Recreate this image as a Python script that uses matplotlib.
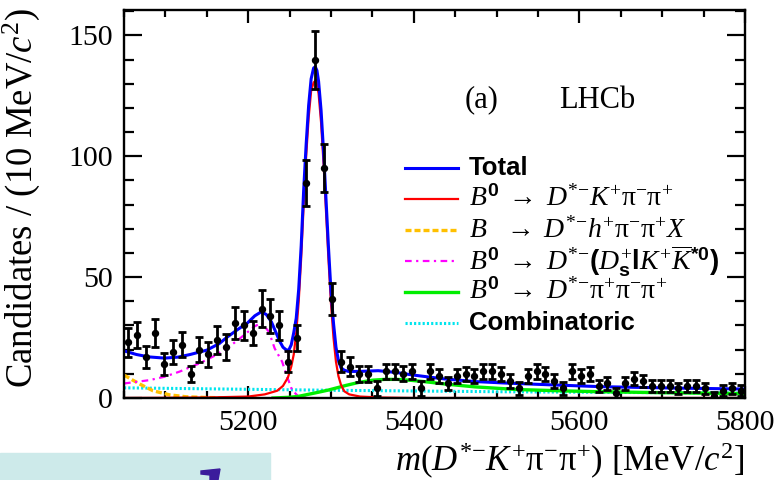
import matplotlib
matplotlib.use('Agg')

import numpy as np
import matplotlib.pyplot as plt
from matplotlib.patches import Rectangle, Polygon
from matplotlib.lines import Line2D
from matplotlib.ticker import MultipleLocator


# SETTINGS
plt.rcParams['mathtext.fontset'] = 'custom'
plt.rcParams['mathtext.rm'] = 'Liberation Serif'
plt.rcParams['mathtext.it'] = 'Liberation Serif:italic'
plt.rcParams['mathtext.bf'] = 'Liberation Sans:bold'
plt.rcParams['font.family'] = ['Liberation Serif', 'DejaVu Sans']

SERIF = 'Liberation Serif'
SANS = 'Liberation Sans'

# DATA
MASS_LO, MASS_HI, N_BINS = 5050, 5800, 70

COUNTS = [23, 26, 17, 27, 14, 19, 22, 10, 20, 18,
          24, 21, 31, 30, 27, 37, 34, 30, 15, 25,
          89, 140, 95, 41, 15, 13, 10, 10, 4, 11,
          11, 10, 11, 4, 11, 9, 6, 9, 10, 9,
          11, 11, 10, 7, 4, 9, 11, 10, 7, 4,
          11, 9, 10, 5, 6, 2, 6, 8, 7, 5,
          5, 5, 4, 5, 5, 4, 1, 3, 4, 3]

ERRORS = [6.0, 5.4, 4.7, 5.8, 4.6, 5.0, 5.1, 3.4, 5.2, 5.0,
          5.8, 5.4, 6.7, 5.9, 5.0, 7.8, 7.0, 6.0, 4.4, 5.4,
          9.6, 12.0, 9.9, 6.6, 4.3, 3.8, 3.4, 3.2, 3.0, 3.1,
          3.1, 3.1, 3.1, 3.0, 3.1, 2.9, 2.7, 2.9, 3.0, 2.9,
          3.1, 3.1, 3.0, 2.8, 2.6, 2.9, 3.1, 3.0, 2.8, 2.6,
          3.0, 2.9, 3.0, 2.5, 2.6, 2.2, 2.5, 2.7, 2.6, 2.4,
          2.4, 2.4, 2.3, 2.4, 2.4, 2.3, 1.5, 2.2, 2.3, 2.2]

# Total fit
TOTAL_M = [5050, 5065, 5080, 5099, 5115, 5130, 5150, 5165, 5175, 5188,
           5199, 5208, 5216, 5222, 5228, 5233, 5238, 5242, 5246, 5249,
           5252, 5255, 5258, 5261, 5264, 5267, 5270, 5273, 5276, 5279,
           5281, 5283, 5285, 5288, 5291, 5294, 5297, 5300, 5303, 5306,
           5309, 5312, 5316, 5321, 5335, 5357, 5380, 5397, 5420, 5437,
           5474, 5510, 5546, 5585, 5625, 5670, 5717, 5760, 5800]
TOTAL_Y = [19.5, 18.0, 17.0, 16.5, 16.9, 18.0, 19.8, 22.5, 25.3, 28.5,
           31.0, 34.0, 35.7, 34.5, 31.5, 27.5, 23.5, 21.0, 19.9, 19.8,
           22.0, 27.0, 33.0, 45.0, 63.0, 86.0, 105.0, 121.0, 132.0, 136.5,
           137.0, 135.5, 131.0, 119.0, 102.0, 82.0, 62.0, 44.0, 31.0, 21.0,
           15.5, 12.5, 11.5, 11.0, 11.0, 11.3, 10.5, 9.6, 8.6, 7.9,
           6.8, 6.2, 5.7, 5.2, 4.7, 4.4, 4.1, 3.9, 3.7]

# B0 -> D*- K+ pi- pi+ signal
SIG_M = [5050, 5150, 5200, 5220, 5235, 5242, 5248, 5252, 5255, 5258,
         5261, 5264, 5267, 5270, 5273, 5276, 5279, 5282, 5285, 5288,
         5291, 5294, 5297, 5300, 5303, 5306, 5309, 5312, 5316, 5322,
         5335, 5360, 5400, 5800]
SIG_Y = [0.0, 0.2, 0.6, 1.5, 3.0, 5.0, 8.5, 13.0, 18.0, 27.0,
         40.0, 58.0, 80.0, 100.0, 116.0, 127.0, 130.5, 131.5, 126.0, 114.0,
         97.0, 77.0, 57.0, 39.0, 25.0, 15.0, 9.0, 5.5, 2.8, 1.5,
         0.6, 0.2, 0.0, 0.0]

# B -> D*- h+ pi- pi+ X
PART_M = [5050, 5060, 5070, 5085, 5105, 5125, 5150, 5190, 5210]
PART_Y = [9.5, 7.5, 5.6, 3.0, 1.3, 0.5, 0.2, 0.0, 0.0]

# B0 -> D*- (Ds+ / K+ K*0bar)
DS_M = [5050, 5081, 5099, 5117, 5141, 5159, 5177, 5195, 5207, 5216,
        5225, 5232, 5241, 5247, 5253, 5261, 5275]
DS_Y = [6.0, 7.4, 8.8, 10.9, 14.3, 17.4, 21.2, 26.0, 29.5, 31.1,
        27.4, 20.5, 15.0, 8.8, 3.3, 0.5, 0.0]

# B0 -> D*- pi+ pi- pi+
PI_M = [5230, 5250, 5261, 5285, 5297, 5318, 5333, 5351, 5365, 5380,
        5397, 5420, 5437, 5474, 5525, 5585, 5625, 5700, 5800]
PI_Y = [0.0, 0.3, 0.7, 2.4, 3.3, 5.2, 6.4, 7.4, 7.7, 7.7,
        7.3, 6.5, 5.8, 4.6, 3.5, 2.9, 2.6, 2.2, 1.8]

# Combinatoric
COMB_M = [5050, 5200, 5300, 5400, 5500, 5600, 5700, 5800]
COMB_Y = [4.2, 3.6, 3.2, 2.9, 2.6, 2.4, 2.2, 2.0]

LEGEND_LABELS = [
    'Total',
    r'$B^{\mathbf{0}}\;\rightarrow\;D^{*{-}}K^{+}\mathrm{\pi}^{-}\mathrm{\pi}^{+}$',
    r'$B\;\;\;\rightarrow\;D^{*{-}}h^{+}\mathrm{\pi}^{-}\mathrm{\pi}^{+}X$',
    r'$B^{\mathbf{0}}\;\rightarrow\;D^{*{-}}\mathbf{(}D_{\mathbf{s}}^{+}\mathbf{l}K^{+}\overline{K}^{\mathbf{*0}}\mathbf{)}$',
    r'$B^{\mathbf{0}}\;\rightarrow\;D^{*{-}}\mathrm{\pi}^{+}\mathrm{\pi}^{-}\mathrm{\pi}^{+}$',
    'Combinatoric',
]
LEGEND_STYLES = [
    dict(color='#0000ff', lw=2.2, ls='-'),
    dict(color='#ff0000', lw=1.6, ls='-'),
    dict(color='#ffc000', lw=2.4, ls=(0, (1.8, 0.9))),
    dict(color='#ff00ff', lw=1.6, ls=(0, (3.0, 2.0, 1.0, 2.0))),
    dict(color='#00ee00', lw=2.4, ls='-'),
    dict(color='#00e5ee', lw=2.2, ls=(0, (0.7, 0.7))),
]


# PLOT
fig = plt.figure(figsize=(7.76, 4.8), dpi=100)
ax = fig.add_axes([124 / 776, 82 / 480, 621 / 776, 388 / 480])

edges = np.linspace(MASS_LO, MASS_HI, N_BINS + 1)
centers = 0.5 * (edges[:-1] + edges[1:])

# components
ax.plot(COMB_M, COMB_Y, **LEGEND_STYLES[5])
ax.plot(PART_M, PART_Y, **LEGEND_STYLES[2])
ax.plot(DS_M, DS_Y, **LEGEND_STYLES[3])
ax.plot(PI_M, PI_Y, **LEGEND_STYLES[4])
ax.plot(SIG_M, SIG_Y, **LEGEND_STYLES[1])
ax.plot(TOTAL_M, TOTAL_Y, **LEGEND_STYLES[0])

ax.errorbar(centers, COUNTS, yerr=ERRORS, fmt='o', color='black',
            markersize=4.3, elinewidth=2.0, capsize=3.0, capthick=2.0,
            zorder=5)

ax.set_xlim(MASS_LO, MASS_HI)
ax.set_ylim(0, 160.5)

ax.xaxis.set_major_locator(MultipleLocator(200))
ax.xaxis.set_minor_locator(MultipleLocator(50))
ax.yaxis.set_major_locator(MultipleLocator(50))
ax.yaxis.set_minor_locator(MultipleLocator(10))

ax.tick_params(axis='both', which='both', direction='in', top=True,
               right=True, width=1.6, labelsize=21.5)
ax.tick_params(axis='y', which='major', length=13, pad=8)
ax.tick_params(axis='y', which='minor', length=7)
ax.tick_params(axis='x', which='major', length=9, pad=9)
ax.tick_params(axis='x', which='minor', length=5)
for lab in ax.get_xticklabels() + ax.get_yticklabels():
    lab.set_family(SERIF)
for sp in ax.spines.values():
    sp.set_linewidth(1.7)

ax.set_xlabel(r'$m(D^{*{-}}K^{+}\mathrm{\pi}^{-}\mathrm{\pi}^{+})$ [MeV/$c^{2}$]',
              fontsize=25, loc='right')
ax.xaxis.set_label_coords(1.0, -0.11)
ax.set_ylabel(r'Candidates / (10 MeV/$c^{2}$)', fontsize=26.5, loc='top')
ax.yaxis.set_label_coords(-0.132, 1.005)

ax.text(0.549, 0.768, '(a)', transform=ax.transAxes, fontsize=22,
        family=SERIF, va='center', ha='left')
ax.text(0.70, 0.768, 'LHCb', transform=ax.transAxes, fontsize=22,
        family=SERIF, va='center', ha='left')

# legend, drawn row by row to keep the even spacing
x0, x1, xt = (405 - 124) / 621, (458 - 124) / 621, (469 - 124) / 621
for i, (label, style) in enumerate(zip(LEGEND_LABELS, LEGEND_STYLES)):
    y = (398 - (168 + 31 * i)) / 388
    ax.add_line(Line2D([x0, x1], [y, y], transform=ax.transAxes,
                       clip_on=False, **style))
    if label.startswith('$'):
        ax.text(xt, y, label, transform=ax.transAxes, fontsize=20,
                va='center', ha='left')
    else:
        ax.text(xt, y, label, transform=ax.transAxes, fontsize=18.5,
                family=SANS, weight='bold', va='center', ha='left')

# pasted strip at the bottom left of the screenshot
fig.patches.append(Rectangle((0, 0), 270 / 776, 27.5 / 480,
                             transform=fig.transFigure,
                             color='#cdeaea', zorder=0))
fig.patches.append(Polygon([(201 / 776, 9 / 480), (220 / 776, 11 / 480),
                            (218 / 776, 0), (210 / 776, 0),
                            (210 / 776, 5 / 480), (201 / 776, 6 / 480)],
                           closed=True, transform=fig.transFigure,
                           color='#3b1c9c', zorder=1))

fig.savefig('out.png', dpi=100)
plt.close(fig)
